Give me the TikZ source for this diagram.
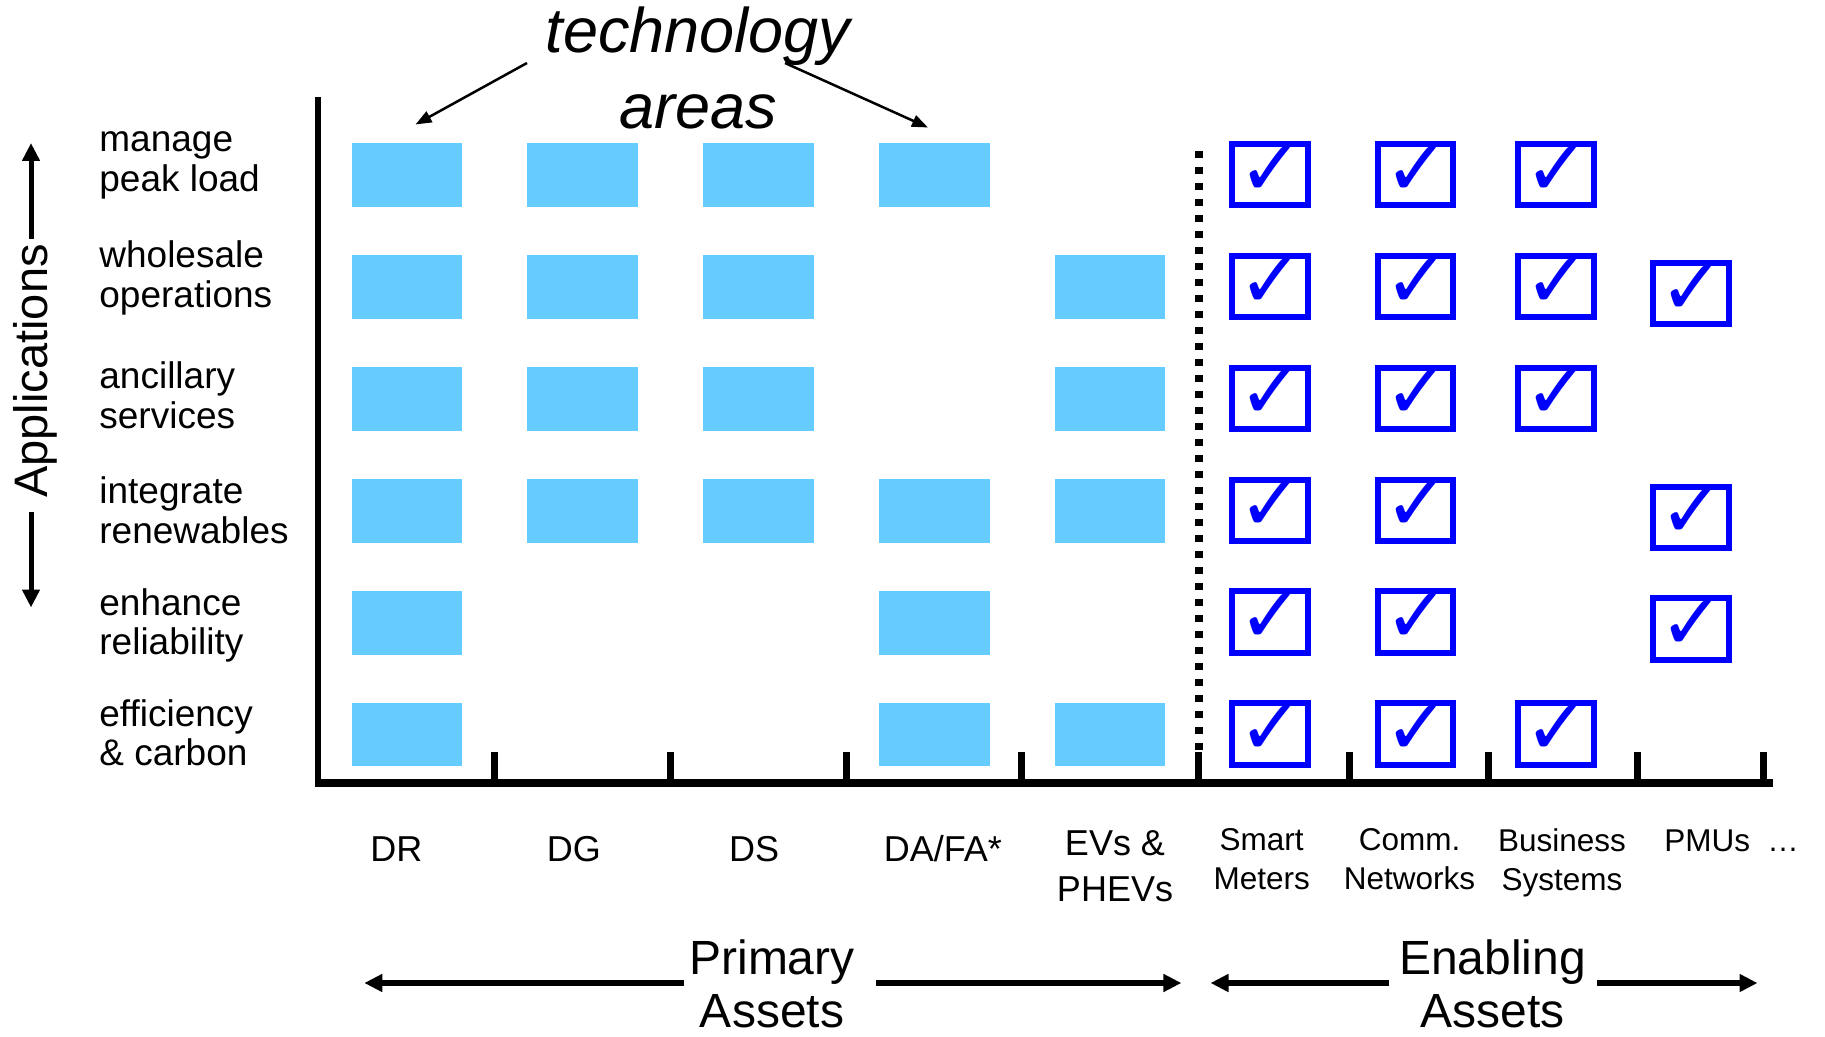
\documentclass[tikz,border=0pt]{standalone}
\usepackage{fontspec}
\setmainfont{Liberation Sans}
\newfontfamily\symf{DejaVu Sans}
\usetikzlibrary{arrows.meta}
\definecolor{techblue}{HTML}{66CCFF}
\definecolor{chkblue}{HTML}{0000FF}
\newcommand\twoL[2]{\begin{tabular}[t]{@{}l@{}}#1\\#2\end{tabular}}
\newcommand\twoC[2]{\begin{tabular}[t]{@{}c@{}}#1\\#2\end{tabular}}
\newcommand\ckx[1]{\ifcase#1\or1270\or1415.5\or1556\or1691\fi}
\newcommand\cky[1]{\ifcase#1\or0\or0\or0\or7\fi}
\tikzset{
  techbox/.style={rectangle,fill=techblue,draw=none,inner sep=0pt,minimum width=55.3pt,minimum height=31.75pt},
  chkbox/.style={rectangle,draw=chkblue,line width=3pt,inner sep=0pt,minimum width=37.75pt,minimum height=30.75pt},
  chkmark/.style={inner sep=0pt,font=\symf\fontsize{39}{39}\selectfont,text=chkblue,xshift=0.75pt,yshift=2pt},
  applabel/.style={anchor=base west,inner sep=0pt,font=\fontsize{18.5}{19.75}\selectfont},
  primlabel/.style={anchor=base,inner sep=0pt,font=\fontsize{18}{23}\selectfont},
  enablabel/.style={anchor=base,inner sep=0pt,font=\fontsize{15.75}{19.25}\selectfont},
  grouplabel/.style={anchor=base,inner sep=0pt,font=\fontsize{24}{26.5}\selectfont},
  axisline/.style={line width=3pt},
  baseaxis/.style={line width=4pt},
  tickline/.style={line width=3.5pt},
  sepline/.style={line width=3.75pt,dash pattern=on 3.35pt off 4.65pt},
  thinarrow/.style={line width=1.25pt,-{Triangle[length=8pt,width=6pt]}},
  bigarrow/.style={line width=3pt,-{Triangle[length=9pt,width=8.5pt]}},
}
\begin{document}
\begin{tikzpicture}[x=0.5pt,y=-0.5pt]
\useasboundingbox (0,0) rectangle (1825,1037);

% axes
\coordinate (ytop) at (317.7,96.6);
\coordinate (ybot) at (317.7,786.5);
\coordinate (xleft) at (314.7,782.5);
\coordinate (xright) at (1773,782.5);
\draw[axisline] (ytop) -- (ybot);
\draw[baseaxis] (xleft) -- (xright);
\foreach \x [count=\i] in {494.7,670.4,846.2,1021.9,1198.8,1349.0,1488.7,1637.6,1763.3}{
  \coordinate (tt-\i) at (\x,752);
  \coordinate (tb-\i) at (\x,782.5);
  \draw[tickline] (tt-\i) -- (tb-\i);
}
\coordinate (septop) at (1198.8,151.3);
\draw[sepline] (septop) -- (tt-5);

% technology area boxes
\foreach \r/\c in {1/1,1/2,1/3,1/4, 2/1,2/2,2/3,2/5, 3/1,3/2,3/3,3/5,
                   4/1,4/2,4/3,4/4,4/5, 5/1,5/4, 6/1,6/4,6/5}{
  \node[techbox] (t-\r-\c) at ({406.8+(\c-1)*175.8},{175+(\r-1)*111.94}) {};
}

% enabling check boxes
\foreach \r/\c in {1/1,1/2,1/3, 2/1,2/2,2/3,2/4, 3/1,3/2,3/3,
                   4/1,4/2,4/4, 5/1,5/2,5/4, 6/1,6/2,6/3}{
  \node[chkbox] (ck-\r-\c) at (\ckx{\c},{174.6+(\r-1)*111.9+\cky{\c}}) {};
  \node[chkmark] (cm-\r-\c) at (ck-\r-\c.center) {✓};
}

% application labels
\node[applabel] (a1) at (99,152) {\twoL{manage}{peak load}};
\node[applabel] (a2) at (99,268) {\twoL{wholesale}{operations}};
\node[applabel] (a3) at (99,389) {\twoL{ancillary}{services}};
\node[applabel] (a4) at (99,503.5) {\twoL{integrate}{renewables}};
\node[applabel] (a5) at (99,615) {\twoL{enhance}{reliability}};
\node[applabel] (a6) at (99,726) {\twoL{efficiency}{\& carbon}};

% Applications axis title
\node[rotate=90,anchor=base,inner sep=0pt,font=\fontsize{23.5}{28}\selectfont] (app) at (47,371) {Applications};
\coordinate (appup0) at (31,238.6);
\coordinate (appup1) at (31,143);
\coordinate (appdn0) at (31,512);
\coordinate (appdn1) at (31,607.5);
\draw[bigarrow,line width=2.5pt] (appup0) -- (appup1);
\draw[bigarrow,line width=2.5pt] (appdn0) -- (appdn1);

% technology areas title
\node[anchor=base,inner sep=0pt,font=\itshape\fontsize{31.5}{37.75}\selectfont] (tech) at (698,53) {\twoC{technology}{areas}};
\coordinate (tl0) at (527,63);
\coordinate (tl1) at (415.5,124.5);
\coordinate (tr0) at (785,63);
\coordinate (tr1) at (928,127.5);
\draw[thinarrow] (tl0) -- (tl1);
\draw[thinarrow] (tr0) -- (tr1);

% asset labels
\node[primlabel] (l-dr) at (396.3,861) {DR};
\node[primlabel] (l-dg) at (573.8,861) {DG};
\node[primlabel] (l-ds) at (754.2,861) {DS};
\node[primlabel] (l-da) at (942.8,861) {DA/FA*};
\node[primlabel] (l-ev) at (1115,855.5) {\twoC{EVs \&}{PHEVs}};
\node[enablabel] (l-sm) at (1261.7,850.8) {\twoC{Smart}{Meters}};
\node[enablabel] (l-cn) at (1409.5,850.8) {\twoC{Comm.}{Networks}};
\node[enablabel] (l-bs) at (1562,851.5) {\twoC{Business}{Systems}};
\node[enablabel,anchor=base west] (l-pm) at (1664,851.5) {PMUs\hspace{0.55em}…};

% group labels and arrows
\node[grouplabel] (prim) at (772,974) {\twoC{Primary}{Assets}};
\node[grouplabel] (enab) at (1492.5,974) {\twoC{Enabling}{Assets}};
\coordinate (pl0) at (684.4,983);
\coordinate (pl1) at (364.3,983);
\coordinate (pr0) at (876.4,983);
\coordinate (pr1) at (1181.4,983);
\coordinate (el0) at (1388.5,983);
\coordinate (el1) at (1210.5,983);
\coordinate (er0) at (1597,983);
\coordinate (er1) at (1757.5,983);
\draw[bigarrow] (pl0) -- (pl1);
\draw[bigarrow] (pr0) -- (pr1);
\draw[bigarrow] (el0) -- (el1);
\draw[bigarrow] (er0) -- (er1);
\end{tikzpicture}
\end{document}
